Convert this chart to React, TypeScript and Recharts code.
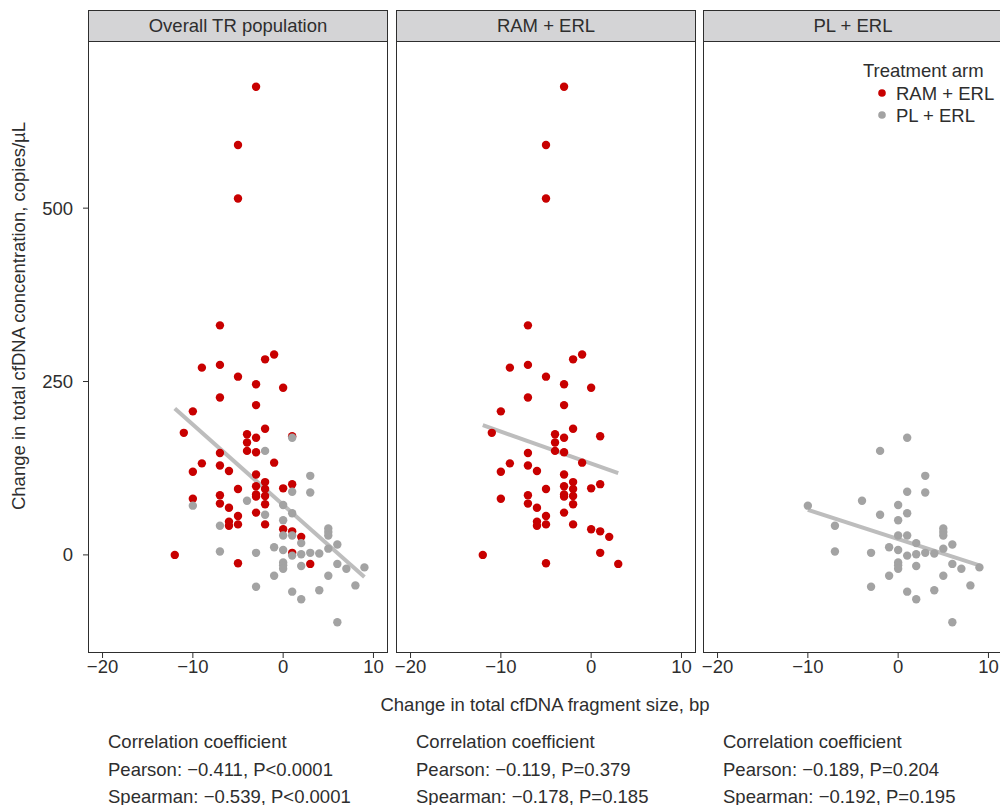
import React from "react";
import {
  ScatterChart,
  Scatter,
  XAxis,
  YAxis,
  ReferenceLine,
} from "recharts";

// change in fragment size (bp), change in concentration (copies/µL)
const ramErlPoints = [
  [-3, 675], [-5, 591], [-5, 514], [-7, 331], [-1, 289], [-2, 282], [-9, 270],
  [-7, 274], [-5, 257], [-3, 246], [0, 241], [-7, 227], [-3, 216], [-10, 207],
  [-2, 182], [-11, 176], [-4, 174], [-3, 169], [1, 171], [-4, 162], [-4, 150],
  [-3, 148], [-7, 147], [-1, 133], [-9, 132], [-7, 129], [-10, 120], [-6, 121],
  [-3, 116], [-2, 105], [1, 102], [-3, 99], [-2, 95], [-5, 95], [0, 96],
  [-3, 87], [-3, 84], [-2, 85], [-10, 81], [-7, 86], [-7, 74], [-2, 73],
  [-6, 68], [-3, 61], [-5, 56], [-6, 48], [-6, 42], [-5, 44], [-2, 44],
  [0, 37], [1, 34], [2, 26], [-12, 0], [1, 3], [-5, -12], [3, -13],
];

const plErlPoints = [
  [1, 169], [-2, 150], [3, 114], [1, 91], [3, 90], [-4, 78], [-10, 71],
  [0, 72], [-2, 58], [1, 60], [0, 50], [-7, 42], [5, 38], [5, 33], [5, 28],
  [0, 28], [1, 28], [2, 17], [6, 15], [-1, 11], [5, 9], [0, 7], [2, 1],
  [1, -1], [3, 3], [4, 2], [-7, 5], [-3, 3], [0, -11], [0, -15], [0, -20],
  [2, -16], [6, -13], [7, -20], [9, -18], [-1, -30], [5, -30], [-3, -46],
  [8, -44], [1, -53], [4, -51], [2, -64], [6, -97],
];

// fitted line end points
const trendOverall = [[-12, 211], [9, -32]];
const trendRamErl = [[-12, 187], [3, 118]];
const trendPlErl = [[-10, 65], [9, -15]];

const panelTitles = ["Overall TR population", "RAM + ERL", "PL + ERL"];
const xTicks = [-20, -10, 0, 10];
const yTicks = [0, 250, 500];

const statsText = [
  ["Pearson: \u22120.411, P<0.0001", "Spearman: \u22120.539, P<0.0001"],
  ["Pearson: \u22120.119, P=0.379", "Spearman: \u22120.178, P=0.185"],
  ["Pearson: \u22120.189, P=0.204", "Spearman: \u22120.192, P=0.195"],
];

const RED = "#c80000";
const GREY = "#a3a3a3";
const LINE = "#bdbdbd";
const INK = "#2e2e2e";
const FONT = "'Liberation Sans', Arial, Helvetica, sans-serif";
const FS = 18.5;

const toXY = (pts: number[][]) => pts.map(([x, y]) => ({ x, y }));
const minus = (v: number) => String(v).replace("-", "\u2212");

const dot = (fill: string) => (p: any) =>
  <circle cx={p.cx} cy={p.cy} r={4.2} fill={fill} />;

const PANEL_W = 298;
const PLOT_TOP = 41;
const PLOT_BOTTOM = 652;
const CHART_H = 700;
const AXIS_W = 89;
const PAD = 20; // room for the edge tick labels

function Panel({ left, title, red, grey, trend, withY }: any) {
  const chartLeft = withY ? left - AXIS_W : left - PAD;
  const chartW = withY ? PANEL_W + AXIS_W + PAD : PANEL_W + 2 * PAD;
  return (
    <>
      <div style={{ position: "absolute", left: chartLeft, top: 0 }}>
        <ScatterChart
          width={chartW}
          height={CHART_H}
          margin={{
            top: PLOT_TOP,
            right: PAD,
            left: withY ? 0 : PAD,
            bottom: CHART_H - PLOT_BOTTOM - 30,
          }}
        >
          <XAxis
            type="number"
            dataKey="x"
            domain={[-21.5, 11.5]}
            ticks={xTicks}
            interval={0}
            allowDataOverflow
            axisLine={false}
            tickLine={{ stroke: INK }}
            tickSize={6}
            height={30}
            tick={{ fill: INK, fontSize: FS, fontFamily: FONT }}
            tickFormatter={minus}
          />
          <YAxis
            type="number"
            dataKey="y"
            domain={[-140, 741]}
            ticks={yTicks}
            allowDataOverflow
            hide={!withY}
            width={AXIS_W}
            axisLine={false}
            tickLine={{ stroke: INK }}
            tickSize={6}
            tickMargin={10}
            tick={{ fill: INK, fontSize: FS, fontFamily: FONT }}
          />
          {red && (
            <Scatter data={toXY(red)} fill={RED} shape={dot(RED)} isAnimationActive={false} />
          )}
          {grey && (
            <Scatter data={toXY(grey)} fill={GREY} shape={dot(GREY)} isAnimationActive={false} />
          )}
          <ReferenceLine
            segment={toXY(trend)}
            stroke={LINE}
            strokeWidth={4}
          />
        </ScatterChart>
      </div>
      <div
        style={{
          position: "absolute",
          left: left - 1,
          top: 10,
          width: PANEL_W + 2,
          height: PLOT_BOTTOM - 10 + 1,
          border: `1px solid ${INK}`,
          boxSizing: "border-box",
          pointerEvents: "none",
        }}
      />
      <div
        style={{
          position: "absolute",
          left: left - 1,
          top: 10,
          width: PANEL_W + 2,
          height: PLOT_TOP - 10 + 1,
          border: `1px solid ${INK}`,
          boxSizing: "border-box",
          background: "#d4d4d6",
          color: INK,
          fontFamily: FONT,
          fontSize: FS,
          lineHeight: `${PLOT_TOP - 12}px`,
          textAlign: "center",
        }}
      >
        {title}
      </div>
    </>
  );
}

export default function App() {
  const panelLefts = [89, 397, 704];
  return (
    <div
      style={{
        position: "absolute",
        left: 0,
        top: 0,
        width: 1000,
        height: 805,
        overflow: "hidden",
        background: "#fff",
      }}
    >
      <Panel left={panelLefts[0]} title={panelTitles[0]} red={ramErlPoints} grey={plErlPoints} trend={trendOverall} withY />
      <Panel left={panelLefts[1]} title={panelTitles[1]} red={ramErlPoints} trend={trendRamErl} />
      <Panel left={panelLefts[2]} title={panelTitles[2]} grey={plErlPoints} trend={trendPlErl} />

      <svg
        width={1000}
        height={805}
        style={{ position: "absolute", left: 0, top: 0, pointerEvents: "none" }}
        fontFamily={FONT}
        fontSize={FS}
        fill={INK}
      >
        <text
          x={18}
          y={316}
          transform="rotate(-90 18 316)"
          textAnchor="middle"
          dominantBaseline="central"
        >
          Change in total cfDNA concentration, copies/µL
        </text>
        <text x={545} y={704} textAnchor="middle" dominantBaseline="central">
          Change in total cfDNA fragment size, bp
        </text>

        {statsText.map((lines, i) => (
          <g key={i}>
            <text x={panelLefts[i] + 19} y={741} dominantBaseline="central">
              Correlation coefficient
            </text>
            <text x={panelLefts[i] + 19} y={769} dominantBaseline="central">
              {lines[0]}
            </text>
            <text x={panelLefts[i] + 19} y={796} dominantBaseline="central">
              {lines[1]}
            </text>
          </g>
        ))}

        <text x={863} y={70} dominantBaseline="central">Treatment arm</text>
        <circle cx={882} cy={93} r={3.8} fill={RED} />
        <text x={896} y={93} dominantBaseline="central">RAM + ERL</text>
        <circle cx={882} cy={115} r={3.8} fill={GREY} />
        <text x={896} y={115} dominantBaseline="central">PL + ERL</text>
      </svg>
    </div>
  );
}
